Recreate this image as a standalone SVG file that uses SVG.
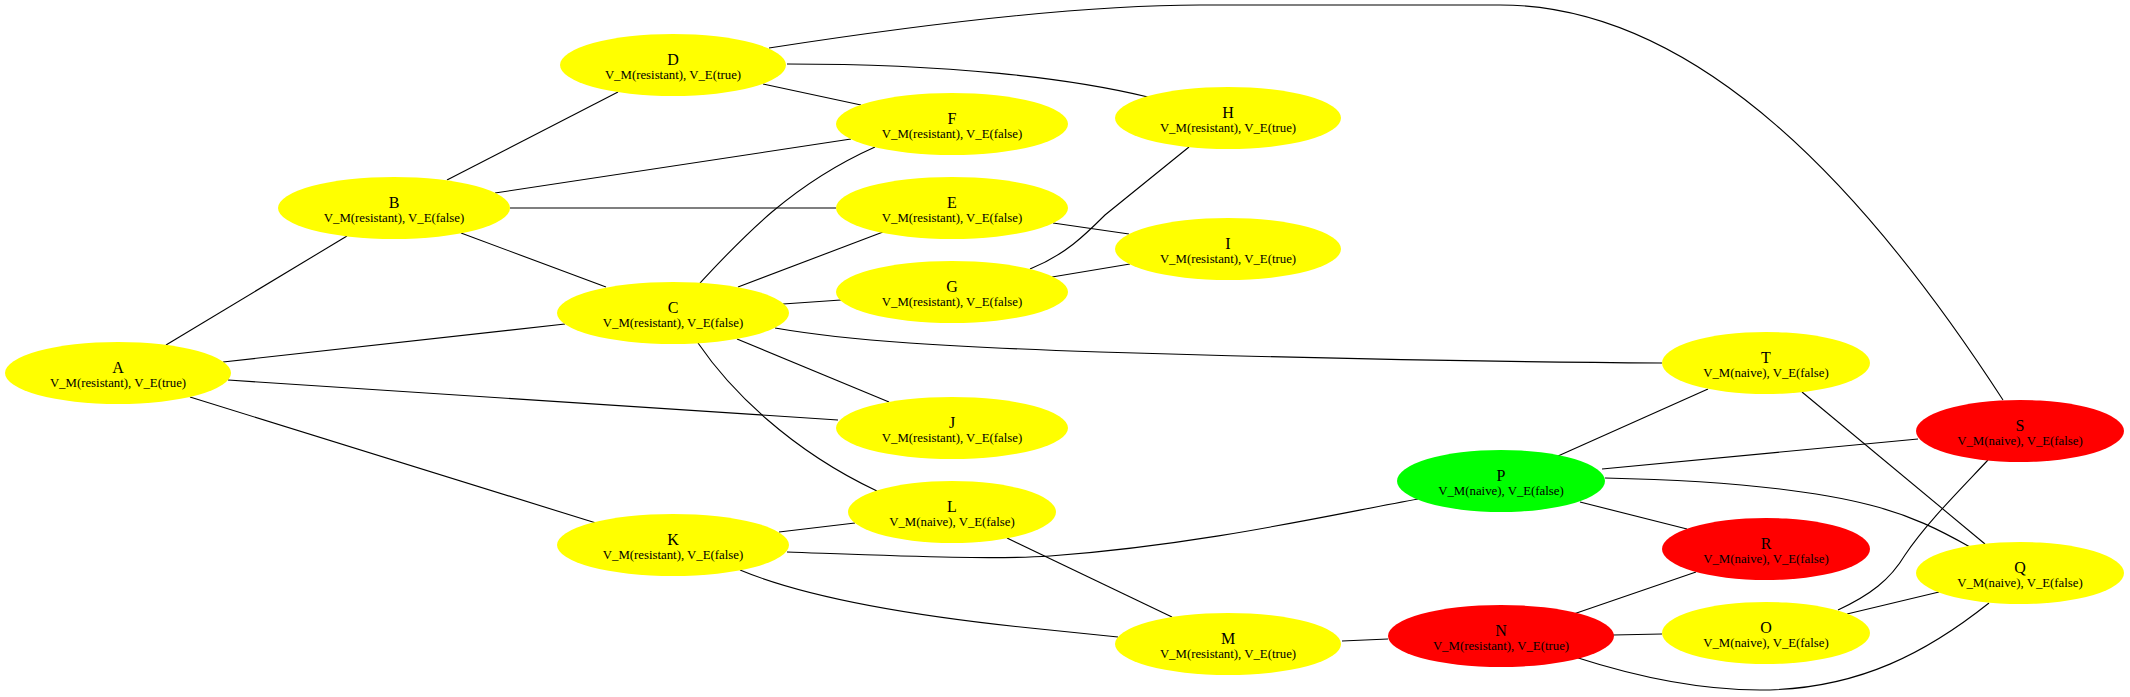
<svg xmlns="http://www.w3.org/2000/svg" width="2130" height="697" viewBox="0 0 2130 697">
<style>
.e{fill:none;stroke:#000;stroke-width:1.1}
.y{fill:#ffff00}
.r{fill:#ff0000}
.g{fill:#00ff00}
.n{font-family:"Liberation Serif","Times New Roman",serif;font-size:16px;text-anchor:middle;fill:#000}
.s{font-family:"Liberation Serif","Times New Roman",serif;font-size:12.8px;text-anchor:middle;fill:#000}
</style>
<rect width="2130" height="697" fill="#fff"/>
<g id="edges">
<path class="e" d="M166,345 L347,236"/>
<path class="e" d="M223,362 L565,324"/>
<path class="e" d="M228,380 L838,420"/>
<path class="e" d="M190,397 L596,523"/>
<path class="e" d="M447,180 L618,92"/>
<path class="e" d="M495,193 L851,139"/>
<path class="e" d="M510,208 L836,208"/>
<path class="e" d="M461,233 L606,287"/>
<path class="e" d="M700,283 C740,240 790,185 875,147"/>
<path class="e" d="M738,287 L883,232"/>
<path class="e" d="M783,304 L841,300"/>
<path class="e" d="M775,328 C850,341 950,347 1100,352 C1300,358 1500,362 1662,363"/>
<path class="e" d="M737,339 L889,402"/>
<path class="e" d="M698,343 C730,390 790,450 877,491"/>
<path class="e" d="M763,84 L861,105"/>
<path class="e" d="M787,64 C950,64 1070,78 1148,97"/>
<path class="e" d="M769,48 C950,20 1100,5 1200,5 L1500,5 C1700,5 1870,195 2003,400"/>
<path class="e" d="M1053,223 L1129,234"/>
<path class="e" d="M1052,277 L1130,264"/>
<path class="e" d="M1030,269 C1065,255 1085,235 1105,215 L1189,147"/>
<path class="e" d="M779,532 L855,523"/>
<path class="e" d="M787,552 C900,556 990,560 1050,556 C1200,545 1330,515 1418,499"/>
<path class="e" d="M740,570 C800,595 900,615 1040,629 L1118,637"/>
<path class="e" d="M1007,538 L1172,617"/>
<path class="e" d="M1342,641 L1388,639"/>
<path class="e" d="M1613,635 L1662,634"/>
<path class="e" d="M1562,618 L1696,572"/>
<path class="e" d="M1575,657 C1640,678 1700,690 1760,690 C1860,690 1930,650 1989,603"/>
<path class="e" d="M1558,456 L1708,389"/>
<path class="e" d="M1602,469 L1918,439"/>
<path class="e" d="M1580,502 L1687,529"/>
<path class="e" d="M1605,478 C1700,480 1800,487 1870,505 C1910,515 1940,530 1970,547"/>
<path class="e" d="M1802,392 L1985,544"/>
<path class="e" d="M1988,460 C1955,495 1925,525 1905,555 C1890,580 1870,595 1838,610"/>
<path class="e" d="M1847,614 L1939,592"/>
</g>
<g id="A"><ellipse class="y" cx="118" cy="373" rx="113" ry="31"/><text class="n" x="118" y="373">A</text><text class="s" x="118" y="387">V_M(resistant), V_E(true)</text></g>
<g id="B"><ellipse class="y" cx="394" cy="208" rx="116" ry="31"/><text class="n" x="394" y="208">B</text><text class="s" x="394" y="222">V_M(resistant), V_E(false)</text></g>
<g id="C"><ellipse class="y" cx="673" cy="313" rx="116" ry="31"/><text class="n" x="673" y="313">C</text><text class="s" x="673" y="327">V_M(resistant), V_E(false)</text></g>
<g id="D"><ellipse class="y" cx="673" cy="65" rx="113" ry="31"/><text class="n" x="673" y="65">D</text><text class="s" x="673" y="79">V_M(resistant), V_E(true)</text></g>
<g id="E"><ellipse class="y" cx="952" cy="208" rx="116" ry="31"/><text class="n" x="952" y="208">E</text><text class="s" x="952" y="222">V_M(resistant), V_E(false)</text></g>
<g id="F"><ellipse class="y" cx="952" cy="124" rx="116" ry="31"/><text class="n" x="952" y="124">F</text><text class="s" x="952" y="138">V_M(resistant), V_E(false)</text></g>
<g id="G"><ellipse class="y" cx="952" cy="292" rx="116" ry="31"/><text class="n" x="952" y="292">G</text><text class="s" x="952" y="306">V_M(resistant), V_E(false)</text></g>
<g id="H"><ellipse class="y" cx="1228" cy="118" rx="113" ry="31"/><text class="n" x="1228" y="118">H</text><text class="s" x="1228" y="132">V_M(resistant), V_E(true)</text></g>
<g id="I"><ellipse class="y" cx="1228" cy="249" rx="113" ry="31"/><text class="n" x="1228" y="249">I</text><text class="s" x="1228" y="263">V_M(resistant), V_E(true)</text></g>
<g id="J"><ellipse class="y" cx="952" cy="428" rx="116" ry="31"/><text class="n" x="952" y="428">J</text><text class="s" x="952" y="442">V_M(resistant), V_E(false)</text></g>
<g id="K"><ellipse class="y" cx="673" cy="545" rx="116" ry="31"/><text class="n" x="673" y="545">K</text><text class="s" x="673" y="559">V_M(resistant), V_E(false)</text></g>
<g id="L"><ellipse class="y" cx="952" cy="512" rx="104" ry="31"/><text class="n" x="952" y="512">L</text><text class="s" x="952" y="526">V_M(naive), V_E(false)</text></g>
<g id="M"><ellipse class="y" cx="1228" cy="644" rx="113" ry="31"/><text class="n" x="1228" y="644">M</text><text class="s" x="1228" y="658">V_M(resistant), V_E(true)</text></g>
<g id="N"><ellipse class="r" cx="1501" cy="636" rx="113" ry="31"/><text class="n" x="1501" y="636">N</text><text class="s" x="1501" y="650">V_M(resistant), V_E(true)</text></g>
<g id="O"><ellipse class="y" cx="1766" cy="633" rx="104" ry="31"/><text class="n" x="1766" y="633">O</text><text class="s" x="1766" y="647">V_M(naive), V_E(false)</text></g>
<g id="P"><ellipse class="g" cx="1501" cy="481" rx="104" ry="31"/><text class="n" x="1501" y="481">P</text><text class="s" x="1501" y="495">V_M(naive), V_E(false)</text></g>
<g id="Q"><ellipse class="y" cx="2020" cy="573" rx="104" ry="31"/><text class="n" x="2020" y="573">Q</text><text class="s" x="2020" y="587">V_M(naive), V_E(false)</text></g>
<g id="R"><ellipse class="r" cx="1766" cy="549" rx="104" ry="31"/><text class="n" x="1766" y="549">R</text><text class="s" x="1766" y="563">V_M(naive), V_E(false)</text></g>
<g id="S"><ellipse class="r" cx="2020" cy="431" rx="104" ry="31"/><text class="n" x="2020" y="431">S</text><text class="s" x="2020" y="445">V_M(naive), V_E(false)</text></g>
<g id="T"><ellipse class="y" cx="1766" cy="363" rx="104" ry="31"/><text class="n" x="1766" y="363">T</text><text class="s" x="1766" y="377">V_M(naive), V_E(false)</text></g>
</svg>
